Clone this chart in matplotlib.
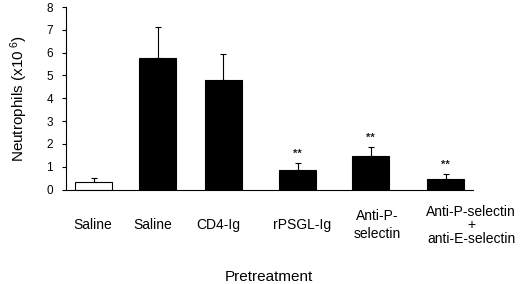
import matplotlib
matplotlib.use("Agg")
import matplotlib.pyplot as plt
import matplotlib.transforms as mtransforms

plt.rcParams['font.family'] = ['Liberation Sans', 'DejaVu Sans']
plt.rcParams['mathtext.fontset'] = 'custom'
plt.rcParams['mathtext.rm'] = 'Liberation Sans'
plt.rcParams['mathtext.it'] = 'Liberation Sans'

# data
labels = ['Saline', 'Saline', 'CD4-Ig', 'rPSGL-Ig', 'Anti-P-\nselectin',
          'Anti-P-selectin\n+\nanti-E-selectin']
means = [0.31, 5.77, 4.80, 0.86, 1.46, 0.44]
errs = [0.18, 1.35, 1.12, 0.32, 0.40, 0.22]
signif = ['', '', '', '**', '**', '**']
colors = ['white', 'black', 'black', 'black', 'black', 'black']

# layout (bar and label positions as in the original figure)
bar_x = [0.381, 1.253, 2.148, 3.159, 4.152, 5.170]
label_x = [0.367, 1.184, 2.075, 3.224, 4.245, 5.517]
label_spacing = [1.0, 1.0, 1.0, 1.0, 1.3, 0.95]

fig = plt.figure(figsize=(5.2, 2.84), dpi=100)
ax = fig.add_axes([0.126, 0.3327, 0.7837, 0.6426])

ax.bar(bar_x, means, width=0.5, color=colors, edgecolor='black',
       linewidth=0.8, zorder=2)
ax.errorbar(bar_x, means, yerr=[[0] * len(errs), errs], fmt='none',
            ecolor='black', elinewidth=0.8, capsize=2, capthick=0.8, zorder=3)

for x, m, e, s in zip(bar_x, means, errs, signif):
    if s:
        ax.annotate(s, (x, m + e), xytext=(0, 3), textcoords='offset points',
                    ha='center', va='bottom', fontsize=8, fontweight='bold',
                    color='#222222')

ax.set_xlim(0, 5.544)
ax.set_ylim(0, 8)
ax.set_yticks(range(0, 9))
ax.set_xticks([])
ax.tick_params(axis='y', direction='out', length=3, width=0.8, pad=6,
               labelsize=8.5)
for side in ['top', 'right']:
    ax.spines[side].set_visible(False)
for side in ['left', 'bottom']:
    ax.spines[side].set_linewidth(0.8)

trans = mtransforms.blended_transform_factory(ax.transData, ax.transAxes)
for x, lab, ls in zip(label_x, labels, label_spacing):
    ax.text(x, -0.195, lab, transform=trans, ha='center', va='center',
            multialignment='center', fontsize=10, linespacing=ls)

ax.set_ylabel('Neutrophils (x10$^{\\ 6}$)', fontsize=11, labelpad=12)
ax.text(0.5, -0.48, 'Pretreatment', transform=ax.transAxes, ha='center',
        va='center', fontsize=11)

fig.savefig('out.png', dpi=100)
